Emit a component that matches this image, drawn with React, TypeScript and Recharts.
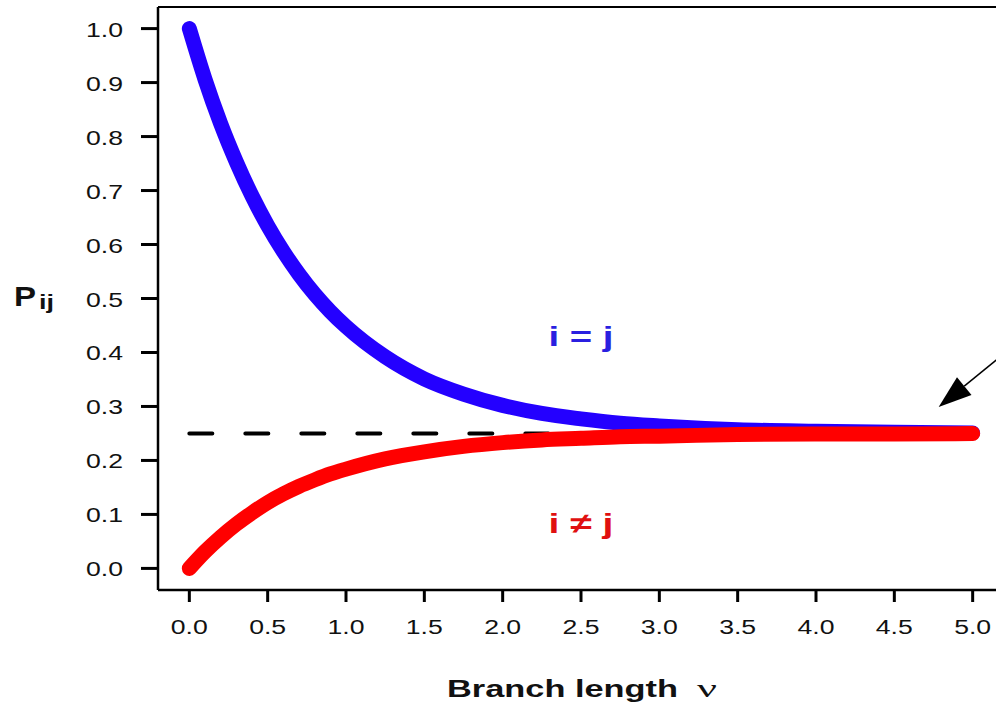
import React from 'react'
import { LineChart, Line, XAxis, YAxis, ReferenceLine, ReferenceDot } from 'recharts'

// branch length (substitutions per site) and the two transition probabilities
const branchLength = [0, 0.1, 0.2, 0.3, 0.4, 0.5, 0.6, 0.7, 0.8, 0.9, 1.0, 1.25, 1.5, 1.75, 2.0, 2.25, 2.5, 2.75, 3.0, 3.5, 4.0, 4.5, 5.0]
const pSame = [1.0, 0.906, 0.824, 0.753, 0.69, 0.635, 0.587, 0.545, 0.508, 0.476, 0.448, 0.392, 0.351, 0.323, 0.302, 0.287, 0.277, 0.269, 0.264, 0.257, 0.254, 0.252, 0.251]
const pDiff = [0.0, 0.031, 0.058, 0.082, 0.103, 0.122, 0.138, 0.152, 0.164, 0.175, 0.184, 0.203, 0.216, 0.226, 0.233, 0.238, 0.241, 0.244, 0.245, 0.248, 0.249, 0.249, 0.25]

const equilibriumX = [0, 5]
const equilibriumP = [0.25, 0.25]

const xTicks = [0, 0.5, 1.0, 1.5, 2.0, 2.5, 3.0, 3.5, 4.0, 4.5, 5.0]
const yTicks = [0, 0.1, 0.2, 0.3, 0.4, 0.5, 0.6, 0.7, 0.8, 0.9, 1.0]

// arrow annotation pointing at the converged tail (start -> tip, data coords)
const arrowFrom = { x: 5.172, y: 0.391 }
const arrowTo = { x: 4.783, y: 0.299 }

const data = branchLength.map((v, i) => ({ v, same: pSame[i], diff: pDiff[i] }))
const eqData = equilibriumX.map((v, i) => ({ v, p: equilibriumP[i] }))

const SANS = '"Liberation Sans", Arial, Helvetica, sans-serif'
const BLUE = '#2400ff'
const RED = '#ff0000'

const XTick = (props: any) => {
  const { x, y, payload } = props
  return (
    <text x={x} y={y + 30} textAnchor="middle" fontFamily={SANS} fontSize={20} fill="#111"
      textLength={37} lengthAdjust="spacingAndGlyphs">
      {Number(payload.value).toFixed(1)}
    </text>
  )
}

const YTick = (props: any) => {
  const { x, y, payload } = props
  return (
    <text x={x - 16} y={y + 8} textAnchor="end" fontFamily={SANS} fontSize={21} fill="#111"
      textLength={37} lengthAdjust="spacingAndGlyphs">
      {Number(payload.value).toFixed(1)}
    </text>
  )
}

const XTitle = (props: any) => {
  const vb = props.viewBox || { x: 158, y: 590, width: 846, height: 118 }
  const cx = vb.x + vb.width / 2
  const base = vb.y + 107
  return (
    <g>
      <text x={cx - 134} y={base} fontFamily={SANS} fontWeight="bold" fontSize={24} fill="#111"
        textLength={231} lengthAdjust="spacingAndGlyphs">
        Branch length
      </text>
      <text x={cx + 116} y={base} fontFamily='"Liberation Serif", serif' fontSize={26} fill="#111"
        textLength={20} lengthAdjust="spacingAndGlyphs">
        ν
      </text>
    </g>
  )
}

const YTitle = (props: any) => {
  const vb = props.viewBox || { x: 0, y: 7, width: 158, height: 583 }
  const cy = vb.y + vb.height / 2
  return (
    <g>
      <text x={14} y={cy + 7} fontFamily={SANS} fontWeight="bold" fontSize={28} fill="#111"
        textLength={22} lengthAdjust="spacingAndGlyphs">
        P
      </text>
      <text x={39} y={cy + 10} fontFamily={SANS} fontWeight="bold" fontSize={21} fill="#111"
        textLength={15} lengthAdjust="spacingAndGlyphs">
        ij
      </text>
    </g>
  )
}

const curveLabel = (text: string, color: string) => (props: any) => {
  const vb = props.viewBox || { x: 0, y: 0 }
  return (
    <text x={vb.x} y={vb.y} textAnchor="middle" fontFamily={SANS} fontWeight="bold" fontSize={28}
      fill={color} textLength={65} lengthAdjust="spacingAndGlyphs">
      {text}
    </text>
  )
}

const Arrow = (props: any) => {
  const { x1, y1, x2, y2 } = props
  const dx = x1 - x2
  const dy = y1 - y2
  const len = Math.sqrt(dx * dx + dy * dy) || 1
  const ux = dx / len
  const uy = dy / len
  const head = 33
  const half = 11.5
  const bx = x2 + ux * head
  const by = y2 + uy * head
  const pts = [
    [x2, y2],
    [bx - uy * half, by + ux * half],
    [bx + uy * half, by - ux * half],
  ]
  return (
    <g>
      <line x1={x1} y1={y1} x2={bx} y2={by} stroke="#000" strokeWidth={1.5} />
      <polygon points={pts.map((p) => p.join(',')).join(' ')} fill="#000" />
    </g>
  )
}

export default function App() {
  return (
    <div style={{ position: 'absolute', left: 0, top: 0, width: 996, height: 708, overflow: 'hidden', background: '#fff' }}>
      <LineChart width={1010} height={708} data={data} margin={{ top: 7, right: 6, bottom: 0, left: 0 }}>
        <XAxis
          dataKey="v"
          type="number"
          domain={[-0.2, 5.2]}
          ticks={xTicks}
          interval={0}
          allowDataOverflow
          height={118}
          tickSize={12}
          tickMargin={2}
          axisLine={{ stroke: '#000', strokeWidth: 2.5 }}
          tickLine={{ stroke: '#000', strokeWidth: 3 }}
          tick={<XTick />}
          label={{ content: XTitle }}
        />
        <YAxis
          type="number"
          domain={[-0.04, 1.04]}
          ticks={yTicks}
          interval={0}
          allowDataOverflow
          width={158}
          tickSize={17}
          tickMargin={2}
          axisLine={{ stroke: '#000', strokeWidth: 2.5 }}
          tickLine={{ stroke: '#000', strokeWidth: 3 }}
          tick={<YTick />}
          label={{ content: YTitle }}
        />
        <ReferenceLine y={1.04} stroke="#000" strokeWidth={2} />
        <Line
          data={eqData}
          dataKey="p"
          type="linear"
          stroke="#000"
          strokeWidth={4}
          strokeDasharray="23 33"
          strokeLinecap="round"
          dot={false}
          activeDot={false}
          isAnimationActive={false}
        />
        <Line
          dataKey="same"
          type="monotone"
          stroke={BLUE}
          strokeWidth={15}
          strokeLinecap="round"
          strokeLinejoin="round"
          dot={false}
          activeDot={false}
          isAnimationActive={false}
        />
        <Line
          dataKey="diff"
          type="monotone"
          stroke={RED}
          strokeWidth={15}
          strokeLinecap="round"
          strokeLinejoin="round"
          dot={false}
          activeDot={false}
          isAnimationActive={false}
        />
        <ReferenceDot x={2.5} y={0.412} r={0} fill="none" stroke="none" label={{ content: curveLabel('i = j', '#2a1fe0') }} />
        <ReferenceDot x={2.5} y={0.066} r={0} fill="none" stroke="none" label={{ content: curveLabel('i ≠ j', '#e01010') }} />
        <ReferenceLine segment={[arrowFrom, arrowTo]} ifOverflow="visible" shape={Arrow} />
      </LineChart>
    </div>
  )
}
